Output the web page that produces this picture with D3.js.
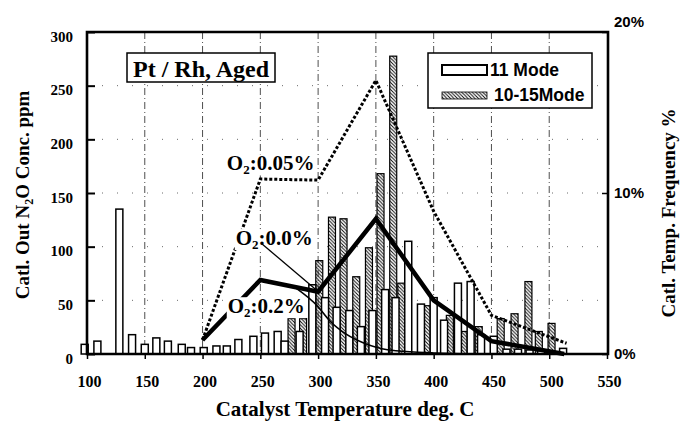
<!DOCTYPE html>
<html>
<head>
<meta charset="utf-8">
<script src="https://cdn.jsdelivr.net/npm/d3@7"></script>
<style>
body { margin: 0; background: #fff; }
svg { display: block; }
</style>
</head>
<body>
<svg width="681" height="422"></svg>
<script>
const width = 681
const height = 422
const margin = { left: 87, top: 32, right: 73, bottom: 68 }

// histogram of catalyst temperature, bar centre (deg C) / frequency (%)
const mode11Temp = [98, 109, 128, 139, 150, 160, 170, 182, 190, 201, 212, 221, 231, 244, 254, 265, 271, 284,
    295, 306, 316, 327, 337, 347, 358, 367, 378, 389, 400, 409, 421, 432, 441, 452, 463, 473, 483, 493, 512]
const mode11Freq = [0.6, 0.8, 9.0, 1.2, 0.6, 1.0, 0.8, 0.6, 0.4, 0.4, 0.5, 0.5, 0.9, 1.1, 1.3, 1.4, 0.8, 1.4,
    4.3, 3.5, 2.9, 2.7, 1.7, 2.7, 4.0, 3.5, 7.0, 3.1, 3.5, 2.1, 4.4, 4.5, 1.2, 1.1, 0.3, 0.3, 0.25, 0.2, 0.35]

const mode1015Temp = [277, 287, 301, 312, 322, 333, 344, 354, 365, 372, 394, 414, 426, 439, 458, 470, 482, 491, 502]
const mode1015Freq = [2.2, 2.2, 5.8, 8.5, 8.4, 4.8, 6.6, 11.2, 18.5, 4.4, 3.0, 2.4, 1.4, 1.7, 2.2, 2.5, 4.5, 1.4, 1.9]

// N2O at catalyst out (ppm)
const o2005Temp = [200, 250, 300, 350, 400, 450, 515]
const o2005Ppm = [13, 163, 162, 255, 133, 36, 10]
const o200Temp = [200, 250, 300, 350, 400, 450, 513]
const o200Ppm = [13, 69, 58, 126, 50, 12, 0]
const o202Temp = [280, 300, 310, 325, 340, 360, 400, 450, 513]
const o202Ppm = [62, 44, 31, 18, 10, 4, 1, 0, 0]

const xTicks = [100, 150, 200, 250, 300, 350, 400, 450, 500, 550]
const yTicks = [0, 50, 100, 150, 200, 250, 300]
const yRightTicks = [0, 10, 20]

const serif = '"Liberation Serif", "Times New Roman", serif'
const sans = '"Liberation Sans", Arial, sans-serif'

const x = d3.scaleLinear()
    .domain([100, 550])
    .range([margin.left, width - margin.right - 1])

const y = d3.scaleLinear()
    .domain([0, 300])
    .range([height - margin.bottom, margin.top])

const yR = d3.scaleLinear()
    .domain([0, 20])
    .range([height - margin.bottom, margin.top])

const svg = d3.select('svg')

// hatch for the 10-15 mode bars
svg.append('defs')
    .append('pattern')
    .attr('id', 'hatch')
    .attr('patternUnits', 'userSpaceOnUse')
    .attr('width', 3.5)
    .attr('height', 3.5)
    .append('path')
    .attr('d', 'M-1,-1L4.5,4.5M-1,2.5L1,4.5M2.5,-1L4.5,1')
    .attr('stroke', '#000')
    .attr('stroke-width', 0.9)

// grid
svg.append('g')
    .selectAll('line')
    .data(yTicks.slice(1, -1))
    .join('line')
    .attr('x1', margin.left)
    .attr('x2', width - margin.right)
    .attr('y1', d => y(d))
    .attr('y2', d => y(d))
    .attr('stroke', '#444')
    .attr('stroke-width', 0.8)
    .attr('stroke-dasharray', '1,14')

svg.append('g')
    .selectAll('line')
    .data(xTicks.slice(1, -1))
    .join('line')
    .attr('x1', d => x(d))
    .attr('x2', d => x(d))
    .attr('y1', margin.top)
    .attr('y2', height - margin.bottom)
    .attr('stroke', '#222')
    .attr('stroke-width', 0.8)
    .attr('stroke-dasharray', '7,3,1,3')

const barW = 7
const base = y(0)

svg.append('g')
    .selectAll('rect')
    .data(mode1015Temp.map((t, i) => [t, mode1015Freq[i]]))
    .join('rect')
    .attr('x', d => x(d[0]) - barW / 2)
    .attr('y', d => yR(d[1]))
    .attr('width', barW)
    .attr('height', d => base - yR(d[1]))
    .attr('fill', 'url(#hatch)')
    .attr('stroke', '#000')
    .attr('stroke-width', 1.2)

svg.append('g')
    .selectAll('rect')
    .data(mode11Temp.map((t, i) => [t, mode11Freq[i]]))
    .join('rect')
    .attr('x', d => x(d[0]) - barW / 2)
    .attr('y', d => yR(d[1]))
    .attr('width', barW)
    .attr('height', d => base - yR(d[1]))
    .attr('fill', '#fff')
    .attr('stroke', '#000')
    .attr('stroke-width', 1.5)

const line = d3.line()
    .x(d => x(d[0]))
    .y(d => y(d[1]))

const curve = d3.line()
    .x(d => x(d[0]))
    .y(d => y(d[1]))
    .curve(d3.curveMonotoneX)

svg.append('path')
    .datum(o2005Temp.map((t, i) => [t, o2005Ppm[i]]))
    .attr('d', line)
    .attr('fill', 'none')
    .attr('stroke', '#000')
    .attr('stroke-width', 3)
    .attr('stroke-dasharray', '3,2')

svg.append('path')
    .datum(o200Temp.map((t, i) => [t, o200Ppm[i]]))
    .attr('d', line)
    .attr('fill', 'none')
    .attr('stroke', '#000')
    .attr('stroke-width', 4.5)
    .attr('stroke-linejoin', 'miter')

svg.append('path')
    .datum(o202Temp.map((t, i) => [t, o202Ppm[i]]))
    .attr('d', curve)
    .attr('fill', 'none')
    .attr('stroke', '#000')
    .attr('stroke-width', 1.6)

// O2 labels with white backing
const o2Label = function(tx, ppm, rest) {
    const g = svg.append('g')
    const t = g.append('text')
        .attr('x', x(tx))
        .attr('y', y(ppm))
        .attr('font-family', serif)
        .attr('font-weight', 'bold')
        .attr('font-size', 21)
    t.append('tspan').text('O')
    t.append('tspan').attr('font-size', 13).attr('dy', 4).text('2')
    t.append('tspan').attr('dy', -4).text(':' + rest)
    const b = t.node().getBBox()
    g.insert('rect', 'text')
        .attr('x', b.x - 1)
        .attr('y', b.y + 3)
        .attr('width', b.width + 2)
        .attr('height', b.height - 5)
        .attr('fill', '#fff')
}
o2Label(221, 171, '0.05%')
o2Label(228.7, 101.5, '0.0%')
o2Label(221.8, 38, '0.2%')

// leader from the 0.0% label down to its line
svg.append('line')
    .attr('x1', x(251))
    .attr('y1', y(103))
    .attr('x2', x(298))
    .attr('y2', y(60))
    .attr('stroke', '#000')
    .attr('stroke-width', 1.3)

// axes
svg.append('g')
    .attr('transform', `translate(${margin.left},0)`)
    .call(d3.axisLeft(y).tickValues(yTicks).tickSize(-8).tickPadding(14))
    .call(g => g.select('.domain').remove())
    .call(g => g.selectAll('line').attr('stroke-width', 2))
    .call(g => g.selectAll('text')
        .attr('dy', '0.62em')
        .attr('font-family', serif)
        .attr('font-weight', 'bold')
        .attr('font-size', 15))

svg.append('g')
    .attr('transform', `translate(0,${height - margin.bottom})`)
    .call(d3.axisBottom(x).tickValues(xTicks).tickSize(5).tickPadding(17))
    .call(g => g.select('.domain').remove())
    .call(g => g.selectAll('line').attr('stroke-width', 1.5))
    .call(g => g.selectAll('text')
        .attr('dx', 2)
        .attr('font-family', serif)
        .attr('font-weight', 'bold')
        .attr('font-size', 16))

svg.append('g')
    .attr('transform', `translate(${width - margin.right},0)`)
    .call(d3.axisRight(yR).tickValues(yRightTicks).tickSize(-6).tickPadding(6).tickFormat(d => d + '%'))
    .call(g => g.select('.domain').remove())
    .call(g => g.selectAll('line').attr('stroke-width', 1.5))
    .call(g => g.selectAll('text')
        .attr('dy', (d, i) => d == 20 ? '-0.35em' : '0.3em')
        .attr('font-family', sans)
        .attr('font-weight', 'bold')
        .attr('font-size', 15))

// frame
svg.append('path')
    .attr('d', `M${margin.left},${y(0)}V${margin.top}H${width - margin.right}V${y(0)}Z`)
    .attr('fill', 'none')
    .attr('stroke', '#000')
    .attr('stroke-width', 2.6)

// title box
const title = svg.append('g')
title.append('rect')
    .attr('x', 127)
    .attr('y', 53)
    .attr('width', 148)
    .attr('height', 29)
    .attr('fill', '#fff')
    .attr('stroke', '#000')
    .attr('stroke-width', 1.5)
title.append('text')
    .attr('x', 201)
    .attr('y', 77)
    .attr('text-anchor', 'middle')
    .attr('font-family', serif)
    .attr('font-weight', 'bold')
    .attr('font-size', 24)
    .text('Pt / Rh, Aged')

// legend
const legendNames = ['11 Mode', '10-15Mode']
const legendFill = ['#fff', 'url(#hatch)']
const legend = svg.append('g')
legend.append('rect')
    .attr('x', 428)
    .attr('y', 53)
    .attr('width', 164)
    .attr('height', 55)
    .attr('fill', '#fff')
    .attr('stroke', '#000')
    .attr('stroke-width', 1.5)
legend.selectAll('g.item')
    .data(legendNames)
    .join('g')
    .attr('class', 'item')
    .attr('transform', (d, i) => `translate(442,${65 + i * 25})`)
    .call(g => g.append('rect')
        .attr('width', 45)
        .attr('height', (d, i) => i == 0 ? 10 : 7)
        .attr('y', (d, i) => i == 0 ? 0 : 2)
        .attr('fill', (d, i) => legendFill[i])
        .attr('stroke', '#000')
        .attr('stroke-width', (d, i) => i == 0 ? 2 : 0.8))
    .call(g => g.append('text')
        .attr('x', (d, i) => i == 0 ? 48 : 52)
        .attr('y', 11)
        .attr('font-family', sans)
        .attr('font-weight', 'bold')
        .attr('font-size', 17.5)
        .text(d => d))

// axis titles
svg.append('text')
    .attr('x', 345)
    .attr('y', 416)
    .attr('text-anchor', 'middle')
    .attr('font-family', serif)
    .attr('font-weight', 'bold')
    .attr('font-size', 21)
    .text('Catalyst Temperature deg. C')

const leftTitle = svg.append('text')
    .attr('transform', 'translate(29,195) rotate(-90)')
    .attr('text-anchor', 'middle')
    .attr('font-family', serif)
    .attr('font-weight', 'bold')
    .attr('font-size', 19)
leftTitle.append('tspan').text('Catl. Out N')
leftTitle.append('tspan').attr('font-size', 12).attr('dy', 4).text('2')
leftTitle.append('tspan').attr('dy', -4).text('O Conc. ppm')

svg.append('text')
    .attr('transform', 'translate(675,213) rotate(-90)')
    .attr('text-anchor', 'middle')
    .attr('font-family', serif)
    .attr('font-weight', 'bold')
    .attr('font-size', 19)
    .text('Catl. Temp. Frequency  %')
</script>
</body>
</html>
